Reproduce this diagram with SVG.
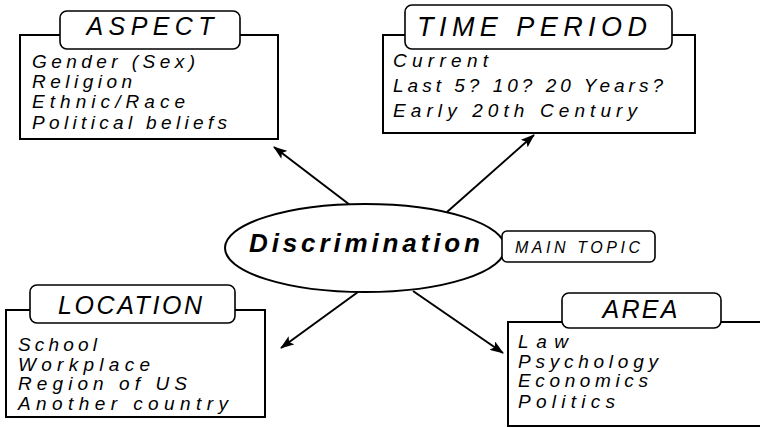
<svg xmlns="http://www.w3.org/2000/svg" width="760" height="428" viewBox="0 0 760 428">
<defs>
<marker id="ah" markerWidth="14" markerHeight="10" refX="13" refY="5" orient="auto" markerUnits="userSpaceOnUse">
<path d="M0,0 L14,5 L0,10 L3,5 Z" fill="#000"/>
</marker>
</defs>
<style>
.box{fill:#fff;stroke:#000;stroke-width:2}
.tab{fill:#fff;stroke:#000;stroke-width:1.6}
.t{font-family:"Liberation Sans",Arial,sans-serif;font-style:italic;fill:#000}
.h{font-size:25px;text-anchor:middle}
.b{font-size:19px}
.c{stroke:#000;stroke-width:2;fill:none;marker-end:url(#ah)}
</style>
<rect width="760" height="428" fill="#fff"/>
<g id="connectors">
<line class="c" x1="350" y1="205" x2="274" y2="147"/>
<line class="c" x1="447" y1="212" x2="534" y2="135"/>
<line class="c" x1="358" y1="292" x2="281" y2="348"/>
<line class="c" x1="413" y1="291" x2="503" y2="353"/>
</g>
<g id="aspect">
<rect class="box" x="20" y="35" width="258" height="104"/>
<rect class="tab" x="60" y="11" width="180" height="38" rx="7"/>
<text class="t h" x="150" y="35" textLength="127" lengthAdjust="spacing">ASPECT</text>
<text class="t b" x="32" y="68" textLength="163" lengthAdjust="spacing">Gender (Sex)</text>
<text class="t b" x="32" y="88" textLength="100" lengthAdjust="spacing">Religion</text>
<text class="t b" x="32" y="108" textLength="153" lengthAdjust="spacing">Ethnic/Race</text>
<text class="t b" x="32" y="129" textLength="195" lengthAdjust="spacing">Political beliefs</text>
</g>
<g id="time-period">
<rect class="box" x="383" y="35" width="312" height="98"/>
<rect class="tab" x="405" y="5" width="267" height="44" rx="7"/>
<text class="t h" x="532" y="36" style="font-size:27px" textLength="230" lengthAdjust="spacing">TIME PERIOD</text>
<text class="t b" x="393" y="67" textLength="95" lengthAdjust="spacing">Current</text>
<text class="t b" x="393" y="92" textLength="270" lengthAdjust="spacing">Last 5? 10? 20 Years?</text>
<text class="t b" x="393" y="117" textLength="244" lengthAdjust="spacing">Early 20th Century</text>
</g>
<g id="discrimination">
<ellipse cx="365" cy="248" rx="140" ry="44" fill="#fff" stroke="#000" stroke-width="2"/>
<text class="t" x="249" y="252" style="font-size:26px;font-weight:bold" textLength="231" lengthAdjust="spacing">Discrimination</text>
</g>
<g id="main-topic">
<rect class="tab" x="502" y="231" width="153" height="31" rx="5"/>
<text class="t" x="515" y="253" style="font-size:16px" textLength="125" lengthAdjust="spacing">MAIN TOPIC</text>
</g>
<g id="location">
<rect class="box" x="6" y="310" width="259" height="107"/>
<rect class="tab" x="30" y="285" width="205" height="38" rx="7"/>
<text class="t h" x="130" y="314" textLength="144" lengthAdjust="spacing">LOCATION</text>
<text class="t b" x="18" y="351" textLength="79" lengthAdjust="spacing">School</text>
<text class="t b" x="18" y="371" textLength="132" lengthAdjust="spacing">Workplace</text>
<text class="t b" x="18" y="390" textLength="169" lengthAdjust="spacing">Region of US</text>
<text class="t b" x="18" y="410" textLength="210" lengthAdjust="spacing">Another country</text>
</g>
<g id="area">
<rect class="box" x="508" y="322" width="262" height="104"/>
<rect class="tab" x="562" y="293" width="159" height="35" rx="7"/>
<text class="t h" x="640" y="318" textLength="75" lengthAdjust="spacing">AREA</text>
<text class="t b" x="518" y="348" textLength="50" lengthAdjust="spacing">Law</text>
<text class="t b" x="518" y="368" textLength="140" lengthAdjust="spacing">Psychology</text>
<text class="t b" x="518" y="387" textLength="130" lengthAdjust="spacing">Economics</text>
<text class="t b" x="518" y="408" textLength="97" lengthAdjust="spacing">Politics</text>
</g>
</svg>
